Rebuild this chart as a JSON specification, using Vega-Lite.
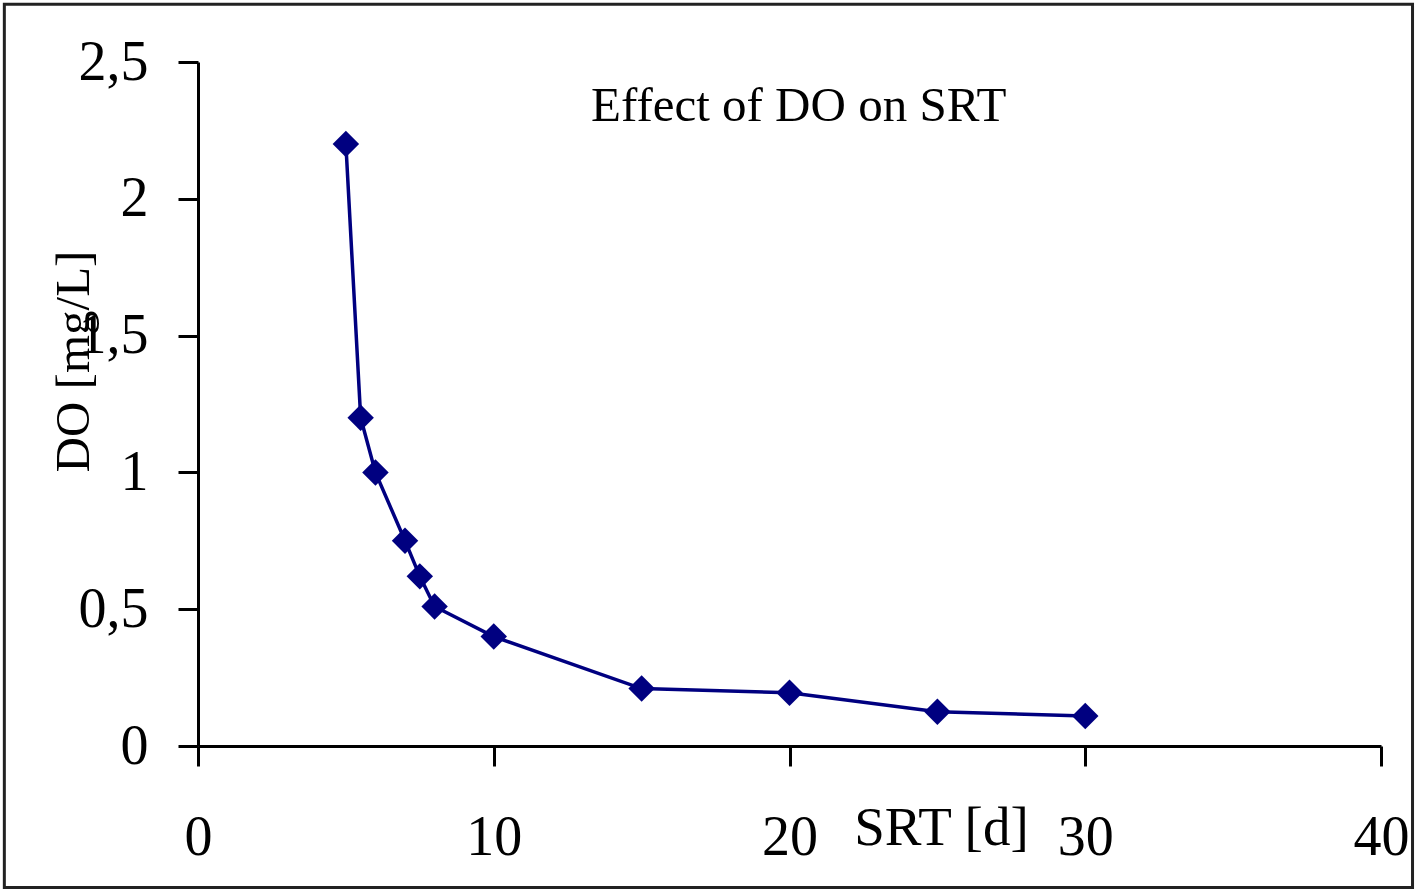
{
  "$schema": "https://vega.github.io/schema/vega-lite/v6.json",
  "width": 1183,
  "height": 684,
  "autosize": {"type": "none"},
  "padding": {"left": 198, "top": 62, "right": 35, "bottom": 143},
  "background": "white",
  "config": {
    "view": {"stroke": null},
    "axis": {
      "grid": false,
      "domainColor": "black",
      "domainWidth": 3,
      "tickColor": "black",
      "tickWidth": 3,
      "tickSize": 20,
      "labelFont": "Liberation Serif",
      "labelFontSize": 56,
      "labelColor": "black",
      "labelOverlap": false,
      "labelFlush": false,
      "titleFont": "Liberation Serif",
      "titleFontWeight": "normal",
      "titleColor": "black"
    }
  },
  "layer": [
    {
      "data": {
        "values": [
          {"SRT": 5, "DO": 2.2},
          {"SRT": 5.5, "DO": 1.2},
          {"SRT": 6, "DO": 1.0},
          {"SRT": 7, "DO": 0.75},
          {"SRT": 7.5, "DO": 0.62},
          {"SRT": 8, "DO": 0.51},
          {"SRT": 10, "DO": 0.4},
          {"SRT": 15, "DO": 0.21},
          {"SRT": 20, "DO": 0.195},
          {"SRT": 25, "DO": 0.125},
          {"SRT": 30, "DO": 0.11}
        ]
      },
      "mark": {
        "type": "line",
        "color": "#000080",
        "strokeWidth": 3.5,
        "point": {"shape": "diamond", "size": 700, "filled": true, "color": "#000080", "opacity": 1}
      },
      "encoding": {
        "x": {
          "field": "SRT",
          "type": "quantitative",
          "scale": {"domain": [0, 40], "nice": false, "zero": false},
          "axis": {
            "values": [0, 10, 20, 30, 40],
            "title": "SRT [d]",
            "titleFontSize": 55,
            "titleX": 743,
            "titleY": 98,
            "titleBaseline": "alphabetic",
            "titleAlign": "center",
            "labelPadding": 88,
            "labelBaseline": "alphabetic"
          }
        },
        "y": {
          "field": "DO",
          "type": "quantitative",
          "scale": {"domain": [0, 2.5], "nice": false, "zero": false},
          "axis": {
            "values": [0, 0.5, 1, 1.5, 2, 2.5],
            "labelExpr": "replace(format(datum.value, ''), '.', ',')",
            "title": "DO [mg/L]",
            "titleFontSize": 49,
            "titleX": -110,
            "titleY": 299,
            "titleAngle": 270,
            "titleBaseline": "alphabetic",
            "titleAlign": "center",
            "labelPadding": 30
          }
        }
      }
    },
    {
      "data": {"values": [{"label": "Effect of DO on SRT"}]},
      "mark": {"type": "text", "font": "Liberation Serif", "fontSize": 49, "color": "black", "align": "center", "baseline": "alphabetic"},
      "encoding": {
        "x": {"datum": 20.31, "type": "quantitative"},
        "y": {"datum": 2.283, "type": "quantitative"},
        "text": {"field": "label"}
      }
    },
    {
      "data": {"values": [{"frame": "chart area"}]},
      "mark": {"type": "rect", "fill": "transparent", "stroke": "#222222", "strokeWidth": 3, "clip": false},
      "encoding": {
        "x": {"datum": -6.548, "type": "quantitative"},
        "x2": {"datum": 41.066},
        "y": {"datum": 2.711, "type": "quantitative"},
        "y2": {"datum": -0.517}
      }
    }
  ]
}
